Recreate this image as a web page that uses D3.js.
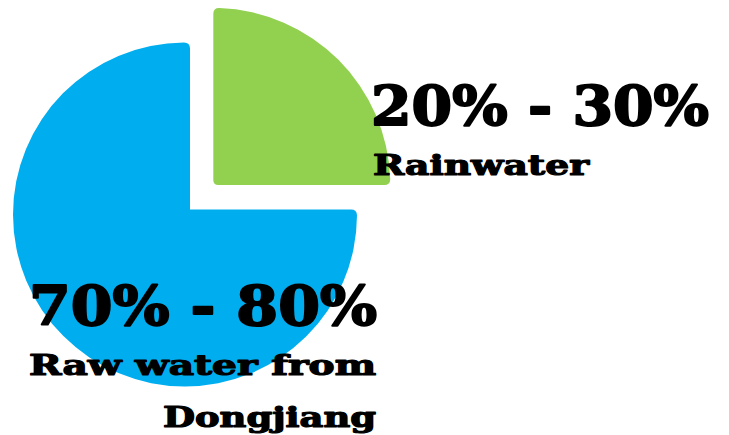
<!DOCTYPE html>
<html>
<head>
<meta charset="utf-8">
<script src="https://cdn.jsdelivr.net/npm/d3@7"></script>
<style>
  body { margin: 0; background: #fff; }
  text { font-family: "DejaVu Serif", serif; font-weight: bold; fill: #000; stroke: #000; stroke-linejoin: round; }
</style>
</head>
<body>
<script>
const categories = ["Rainwater", "Raw water from Dongjiang"];
const categoryLines = [["Rainwater"], ["Raw water from", "Dongjiang"]];
const rangeLabels = ["20% - 30%", "70% - 80%"];
const shares = [25, 75];
const colors = ["#92d050", "#00aeef"];

// wedge with its two straight edges pushed outward by `gap`, small rounded corners
function slicePath(a0, a1, r, gap, rc, rci) {
    const u = a => [Math.sin(a), -Math.cos(a)];
    const u0 = u(a0), u1 = u(a1);
    const n0 = u(a0 - Math.PI / 2), n1 = u(a1 + Math.PI / 2);
    let K = [0, 0];
    const det = n0[0] * n1[1] - n0[1] * n1[0];
    if (gap && Math.abs(det) > 1e-6) {
        K = [(gap * n1[1] - n0[1] * gap) / det, (n0[0] * gap - gap * n1[0]) / det];
    }
    const hit = dir => {
        const kd = K[0] * dir[0] + K[1] * dir[1];
        const kk = K[0] * K[0] + K[1] * K[1];
        const t = -kd + Math.sqrt(kd * kd - kk + r * r);
        return [K[0] + t * dir[0], K[1] + t * dir[1]];
    };
    const E0 = hit(u0), E1 = hit(u1);
    const t0 = Math.atan2(E0[1], E0[0]), t1 = Math.atan2(E1[1], E1[0]);
    const d = rc / r;
    const p = d3.path();
    p.moveTo(K[0] + rci * u0[0], K[1] + rci * u0[1]);
    p.lineTo(E0[0] - rc * u0[0], E0[1] - rc * u0[1]);
    p.quadraticCurveTo(E0[0], E0[1], r * Math.cos(t0 + d), r * Math.sin(t0 + d));
    p.arc(0, 0, r, t0 + d, t1 - d, false);
    p.quadraticCurveTo(E1[0], E1[1], E1[0] - rc * u1[0], E1[1] - rc * u1[1]);
    p.lineTo(K[0] + rci * u1[0], K[1] + rci * u1[1]);
    if (rci > 0) p.quadraticCurveTo(K[0], K[1], K[0] + rci * u0[0], K[1] + rci * u0[1]);
    p.closePath();
    return p.toString();
}

function main(){
    const width = 729;
    const height = 435;

    const svg = d3.select("body").append("svg")
        .attr("width", width)
        .attr("height", height);

    const pie = d3.pie().sort(null).value(d => d);
    const arcs = pie(shares);

    // rainwater slice is pulled out to the upper right
    const place = [
        {cx: 213.3, cy: 185, r: 177, gap: 0, rci: 5},
        {cx: 185, cy: 214.5, r: 172, gap: 5, rci: 0}
    ];

    svg.selectAll("path.slice")
        .data(arcs)
        .enter().append("path")
        .attr("class", "slice")
        .attr("transform", (d, i) => "translate(" + place[i].cx + "," + place[i].cy + ")")
        .attr("fill", (d, i) => colors[i])
        .attr("d", (d, i) => slicePath(d.startAngle, d.endAngle, place[i].r, place[i].gap, 6, place[i].rci));

    // labels
    const labelPos = [
        {x: 371, y: 125, len: 338, lines: [{x: 373, y: 175, len: 216}]},
        {x: 29, y: 325, len: 348, lines: [{x: 376, y: 375, len: 347}, {x: 376, y: 427, len: 213}]}
    ];

    arcs.forEach((d, i) => {
        const lp = labelPos[i];
        svg.append("text")
            .attr("x", lp.x)
            .attr("y", lp.y)
            .attr("font-size", "55px")
            .attr("stroke-width", 2)
            .attr("textLength", lp.len)
            .attr("lengthAdjust", "spacingAndGlyphs")
            .text(rangeLabels[i]);

        categoryLines[i].forEach((line, j) => {
            const lq = lp.lines[j];
            svg.append("text")
                .attr("x", lq.x)
                .attr("y", lq.y)
                .attr("text-anchor", i === 0 ? "start" : "end")
                .attr("font-size", "27px")
                .attr("stroke-width", 1.2)
                .attr("textLength", lq.len)
                .attr("lengthAdjust", "spacingAndGlyphs")
                .text(line);
        });
    });
}
main();
</script>
</body>
</html>
